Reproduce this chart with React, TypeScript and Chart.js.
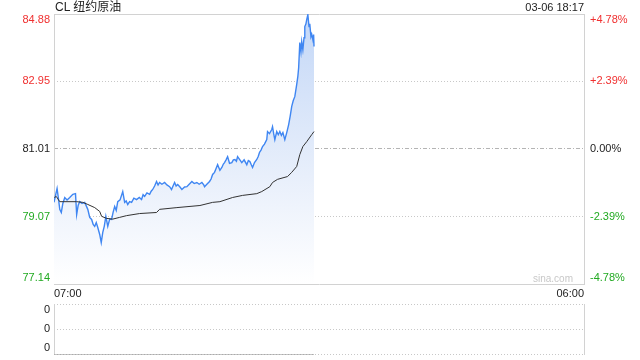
import React, { useEffect, useRef } from "react";
import { Chart, registerables } from "chart.js";

Chart.register(...registerables);

// ---------- data ----------
const TITLE = "CL 纽约原油";
const DATE_LABEL = "03-06 18:17";
const WATERMARK = "sina.com";

const X_MIN = 0; // minutes after 07:00
const X_MAX = 1380; // 06:00 next day
const xTickValues = [0, 1380];
const xTickLabels = ["07:00", "06:00"];

const yTickValues = [77.14, 79.07, 81.01, 82.95, 84.88];
const yTickLabels = ["77.14", "79.07", "81.01", "82.95", "84.88"];
const pctTickLabels = ["-4.78%", "-2.39%", "0.00%", "+2.39%", "+4.78%"];

const priceMinutes = [
  0, 8, 12, 15, 19, 23, 28, 34, 41, 49, 56, 59, 63, 67, 73, 80, 88, 93, 98, 102,
  106, 110, 114, 119, 123, 127, 131, 135, 140, 145, 150, 154, 158, 162, 166, 172, 179, 184, 188, 192,
  197, 202, 208, 215, 222, 228, 232, 236, 242, 249, 253, 257, 262, 267, 271, 275, 281, 288, 294, 301,
  306, 310, 314, 318, 322, 328, 333, 340, 346, 352, 359, 365, 372, 378, 385, 390, 392, 398, 405, 409,
  413, 418, 422, 426, 432, 437, 441, 444, 448, 452, 457, 463, 467, 471, 475, 478, 484, 489, 495, 502,
  506, 510, 514, 517, 522, 528, 532, 535, 539, 543, 548, 554, 556, 561, 567, 569, 572, 575, 580, 584,
  588, 592, 596, 601, 606, 611, 615, 619, 623, 627, 632, 635, 637, 640, 643, 645, 648, 651, 653, 656,
  658, 661, 664, 666, 669, 671, 674, 676, 677,
];
const priceValues = [
  79.48, 79.88, 79.55, 79.28, 79.19, 79.45, 79.62, 79.55, 79.62, 79.71, 79.73, 79.13, 79.4, 79.5, 79.45, 79.48, 79.28, 79.05, 78.99, 78.85,
  78.79, 78.9, 78.76, 78.56, 78.33, 78.62, 78.8, 79.08, 78.79, 79.0, 78.99, 79.2, 79.36, 79.25, 79.5, 79.55, 79.79, 79.48, 79.52, 79.42,
  79.5, 79.48, 79.6, 79.56, 79.62, 79.56, 79.7, 79.65, 79.75, 79.71, 79.8, 79.85, 79.95, 80.08, 79.98, 80.05, 80.0, 80.05, 79.98, 79.93,
  79.85, 79.95, 80.05, 79.95, 79.99, 79.92, 79.85, 79.92, 79.93, 80.0, 80.08, 80.02, 80.05, 80.0, 80.05, 79.98, 79.93, 80.0, 80.08, 80.15,
  80.28, 80.34, 80.45, 80.56, 80.4, 80.48, 80.58, 80.62, 80.7, 80.79, 80.6, 80.62, 80.7, 80.71, 80.66, 80.79, 80.7, 80.62, 80.7, 80.56,
  80.68, 80.65, 80.55, 80.48, 80.62, 80.71, 80.8, 80.91, 80.98, 81.08, 81.15, 81.28, 81.51, 81.45, 81.57, 81.65, 81.45, 81.28, 81.51, 81.42,
  81.51, 81.4, 81.48, 81.28, 81.48, 81.71, 81.95, 82.23, 82.4, 82.51, 82.86, 83.1, 83.34, 84.06, 83.8, 84.09, 83.86, 84.2, 84.52, 84.6,
  84.72, 84.86, 84.52, 84.6, 84.23, 84.3, 84.14, 84.29, 83.95,
];

const avgMinutes = [
  1, 6, 15, 59, 75, 88, 106, 119, 124, 137, 153, 171, 189, 223, 267, 275, 320, 380, 413, 432,
  465, 491, 528, 541, 562, 569, 582, 608, 619, 632, 640, 648, 658, 671, 677,
];
const avgValues = [
  79.62, 79.65, 79.5, 79.5, 79.48, 79.42, 79.33, 79.22, 79.08, 79.02, 79.0, 79.05, 79.1, 79.16, 79.19, 79.28, 79.33, 79.39, 79.48, 79.5,
  79.62, 79.68, 79.73, 79.79, 79.93, 80.05, 80.14, 80.22, 80.34, 80.51, 80.85, 81.08, 81.22, 81.42, 81.51,
];

const volumeMinutes = [0, 677];
const volumeValues = [0, 0];
const volumeTickValues = [0, 1, 2];
const volumeTickLabels = ["0", "0", "0"];

// ---------- style ----------
const FONT = "Arial, 'Liberation Sans', 'Noto Sans CJK SC', sans-serif";
const RED = "#f03030";
const GREEN = "#22aa22";
const DARK = "#222222";
const tickColors = [GREEN, GREEN, DARK, RED, RED];

Chart.defaults.font.family = FONT;

// shift first label up / last label down inside the plot using multi-line trick
function innerLabel(text: string, i: number, n: number): string | string[] {
  if (i === n - 1) return ["", text];
  if (i === 0) return [text, ""];
  return text;
}

const mainFrame = {
  id: "mainFrame",
  beforeDatasetsDraw(chart: any) {
    const { ctx, chartArea, scales } = chart;
    const { left, right, top, bottom } = chartArea;
    const y = scales.y;
    ctx.save();
    ctx.lineWidth = 1;
    yTickValues.forEach((v, i) => {
      const py = Math.floor(y.getPixelForValue(v)) + 0.5;
      if (i === 0 || i === yTickValues.length - 1) {
        ctx.setLineDash([]);
        ctx.strokeStyle = "#d2d2d2";
      } else if (i === 2) {
        ctx.setLineDash([4, 2, 1, 2]);
        ctx.strokeStyle = "#b4b4b4";
      } else {
        ctx.setLineDash([1, 2]);
        ctx.strokeStyle = "#c8c8c8";
      }
      ctx.beginPath();
      ctx.moveTo(Math.floor(left), py);
      ctx.lineTo(Math.floor(right) + 1, py);
      ctx.stroke();
    });
    ctx.setLineDash([]);
    ctx.strokeStyle = "#d2d2d2";
    [left, right].forEach((x) => {
      const px = Math.floor(x) + 0.5;
      ctx.beginPath();
      ctx.moveTo(px, Math.floor(top));
      ctx.lineTo(px, Math.floor(bottom) + 1);
      ctx.stroke();
    });
    ctx.restore();
  },
};

const volFrame = {
  id: "volFrame",
  beforeDatasetsDraw(chart: any) {
    const { ctx, chartArea, scales } = chart;
    const { left, right, top, bottom } = chartArea;
    const y = scales.y;
    ctx.save();
    ctx.lineWidth = 1;
    ctx.setLineDash([1, 2]);
    ctx.strokeStyle = "#c8c8c8";
    volumeTickValues.forEach((v) => {
      const py = Math.floor(y.getPixelForValue(v)) + 0.5;
      ctx.beginPath();
      ctx.moveTo(Math.floor(left), py);
      ctx.lineTo(Math.floor(right) + 1, py);
      ctx.stroke();
    });
    ctx.setLineDash([]);
    ctx.strokeStyle = "#d2d2d2";
    [left, right].forEach((x) => {
      const px = Math.floor(x) + 0.5;
      ctx.beginPath();
      ctx.moveTo(px, Math.floor(top));
      ctx.lineTo(px, Math.floor(bottom) + 1);
      ctx.stroke();
    });
    ctx.restore();
  },
};

export default function App() {
  const mainRef = useRef<HTMLCanvasElement | null>(null);
  const volRef = useRef<HTMLCanvasElement | null>(null);

  useEffect(() => {
    if (!mainRef.current || !volRef.current) return;

    const priceData = priceMinutes.map((m, i) => ({ x: m, y: priceValues[i] }));
    const avgData = avgMinutes.map((m, i) => ({ x: m, y: avgValues[i] }));
    const volData = volumeMinutes.map((m, i) => ({ x: m, y: volumeValues[i] }));

    const yCommon = (labels: string[], width: number, pad: number, pos: "left" | "right") => ({
      type: "linear" as const,
      position: pos,
      min: yTickValues[0],
      max: yTickValues[yTickValues.length - 1],
      grid: { display: false, drawTicks: false, tickLength: 0 },
      border: { display: false },
      afterBuildTicks: (s: any) => {
        s.ticks = yTickValues.map((v) => ({ value: v }));
      },
      afterFit: (s: any) => {
        s.width = width;
        s.paddingTop = 0;
        s.paddingBottom = 0;
      },
      ticks: {
        autoSkip: false,
        padding: pad,
        font: { size: 11, lineHeight: 1.1 },
        color: (c: any) => tickColors[c.index] || DARK,
        callback: (_v: any, i: number) => innerLabel(labels[i], i, labels.length),
      },
    });

    const main = new Chart(mainRef.current, {
      type: "line",
      data: {
        datasets: [
          {
            data: avgData,
            borderColor: "#333333",
            borderWidth: 1,
            pointRadius: 0,
            fill: false,
            tension: 0,
            order: 1,
          },
          {
            data: priceData,
            borderColor: "#3f86f2",
            borderWidth: 1.4,
            pointRadius: 0,
            tension: 0,
            fill: "start",
            order: 2,
            backgroundColor: (c: any) => {
              const area = c.chart.chartArea;
              if (!area) return "rgba(200,220,248,0.5)";
              const g = c.chart.ctx.createLinearGradient(0, area.top, 0, area.bottom);
              g.addColorStop(0, "#c3d7f7");
              g.addColorStop(0.6, "#e8effb");
              g.addColorStop(1, "#ffffff");
              return g;
            },
          },
        ],
      },
      options: {
        responsive: false,
        maintainAspectRatio: false,
        animation: false,
        events: [],
        layout: { padding: { top: 14, left: 0, right: 0, bottom: 0 } },
        plugins: { legend: { display: false }, tooltip: { enabled: false } },
        scales: {
          x: {
            type: "linear",
            min: X_MIN,
            max: X_MAX,
            grid: { display: false, drawTicks: false, tickLength: 0 },
            border: { display: false },
            afterBuildTicks: (s: any) => {
              s.ticks = xTickValues.map((v) => ({ value: v }));
            },
            afterFit: (s: any) => {
              s.height = 16;
              s.paddingLeft = 0;
              s.paddingRight = 0;
            },
            ticks: {
              align: "inner",
              autoSkip: false,
              maxRotation: 0,
              padding: 3,
              color: DARK,
              font: { size: 11 },
              callback: (_v: any, i: number) => xTickLabels[i],
            },
          },
          y: yCommon(yTickLabels, 54, 4, "left"),
          y2: yCommon(pctTickLabels, 56, 6, "right"),
        } as any,
      },
      plugins: [mainFrame],
    });

    const vol = new Chart(volRef.current, {
      type: "line",
      data: {
        datasets: [
          {
            data: volData,
            borderColor: "#8c8c8c",
            borderWidth: 1,
            pointRadius: 0,
            fill: false,
            tension: 0,
          },
        ],
      },
      options: {
        responsive: false,
        maintainAspectRatio: false,
        animation: false,
        events: [],
        layout: { padding: { top: 4, left: 0, right: 56, bottom: 5.5 } },
        plugins: { legend: { display: false }, tooltip: { enabled: false } },
        scales: {
          x: { type: "linear", min: X_MIN, max: X_MAX, display: false },
          y: {
            type: "linear",
            position: "left",
            min: volumeTickValues[0],
            max: volumeTickValues[volumeTickValues.length - 1],
            grid: { display: false, drawTicks: false, tickLength: 0 },
            border: { display: false },
            afterBuildTicks: (s: any) => {
              s.ticks = volumeTickValues.map((v) => ({ value: v }));
            },
            afterFit: (s: any) => {
              s.width = 54;
              s.paddingTop = 0;
              s.paddingBottom = 0;
            },
            ticks: {
              autoSkip: false,
              padding: 4,
              color: DARK,
              font: { size: 11, lineHeight: 1.1 },
              callback: (_v: any, i: number) => innerLabel(volumeTickLabels[i], i, volumeTickLabels.length),
            },
          },
        } as any,
      },
      plugins: [volFrame],
    });

    return () => {
      main.destroy();
      vol.destroy();
    };
  }, []);

  return (
    <div
      style={{
        position: "absolute",
        left: 0,
        top: 0,
        width: 640,
        height: 360,
        background: "#ffffff",
        fontFamily: FONT,
        overflow: "hidden",
      }}
    >
      <canvas
        ref={mainRef}
        width={640}
        height={300}
        style={{ position: "absolute", left: 0, top: 0, width: 640, height: 300 }}
      />
      <canvas
        ref={volRef}
        width={640}
        height={60}
        style={{ position: "absolute", left: 0, top: 300, width: 640, height: 60 }}
      />
      <div
        style={{
          position: "absolute",
          left: 55,
          top: 0,
          fontSize: 12,
          lineHeight: "14px",
          color: "#222",
          whiteSpace: "nowrap",
        }}
      >
        {TITLE}
      </div>
      <div
        style={{
          position: "absolute",
          right: 56,
          top: 0,
          fontSize: 11,
          lineHeight: "14px",
          color: "#222",
          whiteSpace: "nowrap",
        }}
      >
        {DATE_LABEL}
      </div>
      <div
        style={{
          position: "absolute",
          left: 473,
          width: 100,
          top: 272,
          textAlign: "right",
          fontSize: 10,
          lineHeight: "14px",
          color: "#c8c8c8",
          whiteSpace: "nowrap",
        }}
      >
        {WATERMARK}
      </div>
    </div>
  );
}
